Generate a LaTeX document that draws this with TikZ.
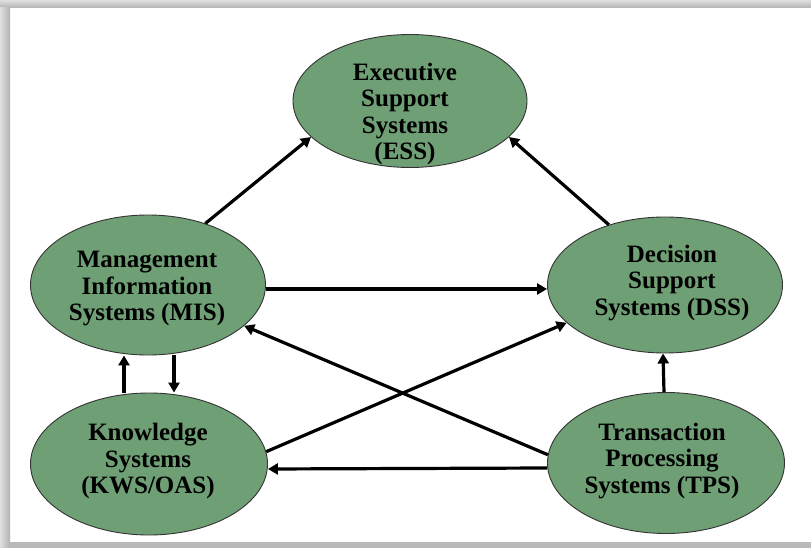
\documentclass[tikz,border=0pt]{standalone}
\usepackage{fontspec}
\setmainfont{Liberation Serif}
\usetikzlibrary{shapes.geometric,arrows.meta}
\definecolor{sage}{RGB}{111,160,117}
\begin{document}
\begin{tikzpicture}[x=1pt,y=-1pt,
 ellip/.style={ellipse,draw=black!80,line width=0.9pt,fill=sage,inner sep=0pt},
 lbl/.style={align=center,font=\fontsize{25}{26.5}\selectfont\bfseries,inner sep=0pt},
 arr/.style={line width=3.2pt,-{Triangle[length=10pt,width=11pt]}}]
\useasboundingbox (0,0) rectangle (811,548);
\fill[white] (0,0) rectangle (811,548);
\shade[top color=gray!25,bottom color=gray!60] (0,0) rectangle (811,8);
\shade[left color=gray!25,right color=gray!60] (0,8) rectangle (10,548);
\fill[gray!55] (10,542) rectangle (811,548);
\node[ellip,minimum width=234pt,minimum height=133pt] (ess) at (410,101) {};
\node[ellip,minimum width=235pt,minimum height=140pt] (mis) at (148,285) {};
\node[ellip,minimum width=235pt,minimum height=136pt] (dss) at (665,285) {};
\node[ellip,minimum width=237pt,minimum height=142pt] (kws) at (149,464) {};
\node[ellip,minimum width=237pt,minimum height=141pt] (tps) at (666,463) {};
\node[lbl] (esst) at (405,114) {Executive\\Support\\Systems\\(ESS)};
\node[lbl] (mist) at (147,289) {Management\\Information\\Systems (MIS)};
\node[lbl] (dsst) at (672,283) {Decision\\Support\\Systems (DSS)};
\node[lbl] (kwst) at (148,461) {Knowledge\\Systems\\(KWS/OAS)};
\node[lbl] (tpst) at (662,461) {Transaction\\Processing\\Systems (TPS)};
\draw[arr] (mis.47) -- (ess.200);
\draw[arr] (dss.133) -- (ess.340);
\draw[arr] ([yshift=-4pt]mis.east) -- ([yshift=-4pt]dss.west);
\draw[arr] (tps.176) -- (mis.337);
\draw[arr] (kws.6) -- (dss.201);
\draw[arr] ([yshift=-5pt]tps.west) -- ([yshift=-5pt]kws.east);
\draw[arr] ([xshift=-2pt]tps.north) -- ([xshift=-2pt]dss.south);
\draw[arr] ([xshift=-25pt]kws.north) -- ([xshift=-24pt]mis.south);
\draw[arr] ([xshift=26pt]mis.south) -- ([xshift=25pt]kws.north);
\end{tikzpicture}
\end{document}
